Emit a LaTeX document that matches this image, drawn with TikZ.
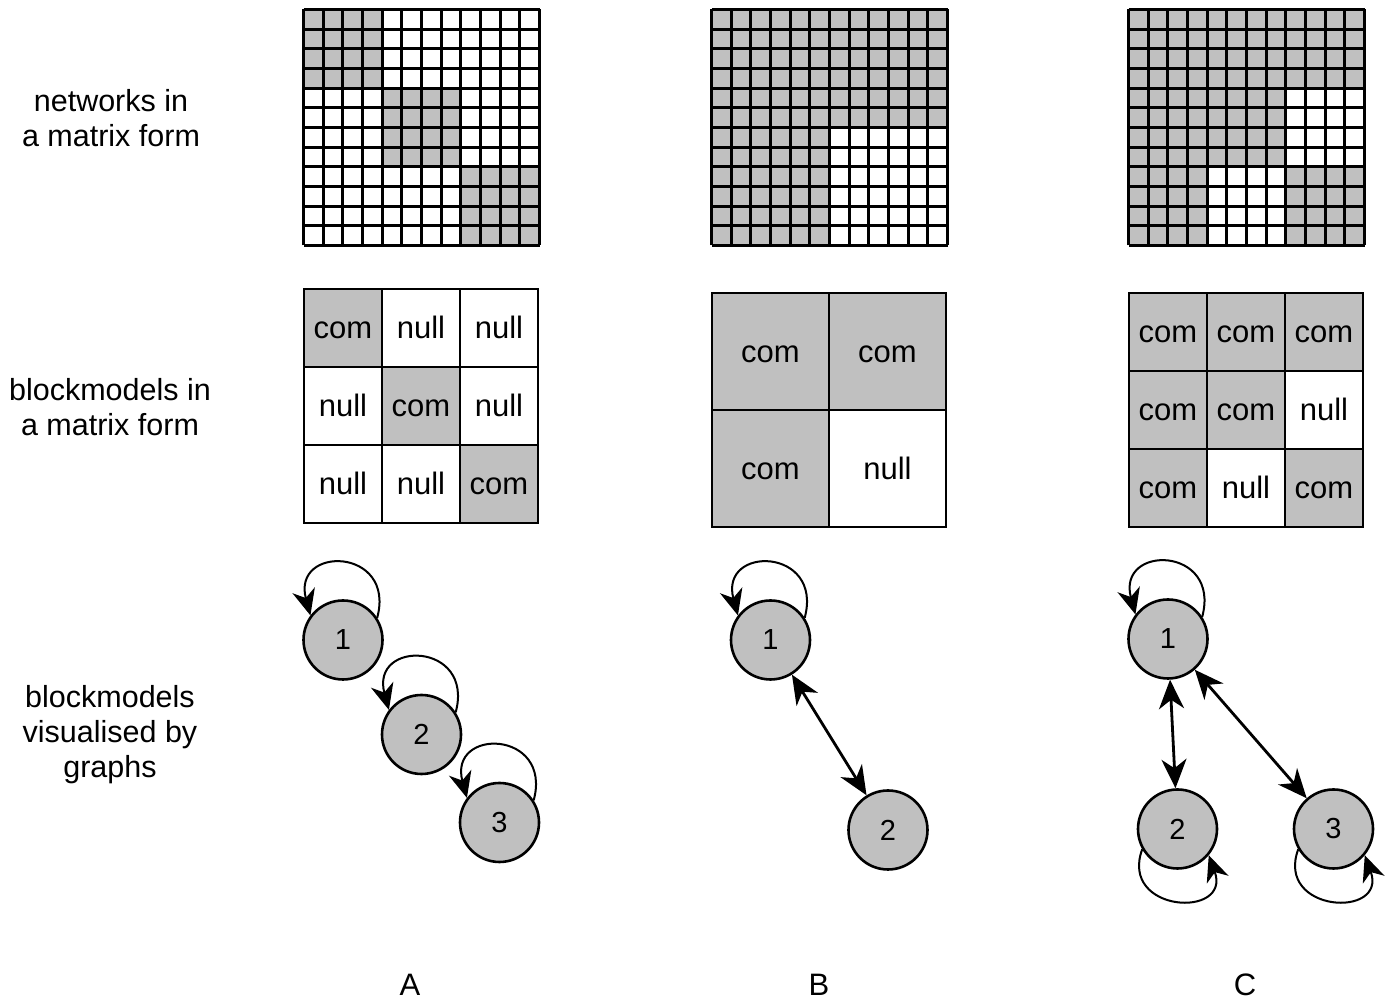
\documentclass[tikz,border=0pt]{standalone}
\usepackage{fontspec}
\setmainfont{Liberation Sans}
\usetikzlibrary{arrows.meta}
\pgfdeclarelayer{edgelayer}
\pgfdeclarelayer{nodelayer}
\pgfsetlayers{edgelayer,nodelayer,main}
\definecolor{cellgrey}{HTML}{C0C0C0}
\tikzstyle{none}=[inner sep=0pt]
\tikzstyle{row_label}=[align=center,inner sep=0pt,font=\fontsize{30.5}{35}\selectfont]
\tikzstyle{col_label}=[inner sep=0pt,font=\fontsize{31}{36}\selectfont]
\tikzstyle{com_cell}=[rectangle,draw=black,line width=2.6pt,fill=cellgrey,minimum size=78pt,inner sep=0pt,text height=22pt,text depth=0pt,font=\fontsize{31}{36}\selectfont]
\tikzstyle{null_cell}=[com_cell,fill=white]
\tikzstyle{big_com_cell}=[com_cell,minimum size=117pt]
\tikzstyle{big_null_cell}=[null_cell,minimum size=117pt]
\tikzstyle{block_vertex}=[circle,draw=black,line width=2.6pt,fill=cellgrey,minimum size=79pt,inner sep=0pt,font=\fontsize{29}{34}\selectfont]
\tikzstyle{self_loop}=[-{Stealth[length=26pt,width=23pt,inset=8pt]},draw=black,line width=2pt]
\tikzstyle{mutual_edge}=[{Stealth[length=29pt,width=25pt,inset=9pt]}-{Stealth[length=29pt,width=25pt,inset=9pt]},draw=black,line width=2.8pt]
\tikzstyle{net_grid}=[draw=black,line width=3pt]

\begin{document}
\begin{tikzpicture}[x=1pt,y=1pt]
	\useasboundingbox (0,0) rectangle (1390,1000);
	\begin{pgfonlayer}{nodelayer}
		\node [style=row_label] (0) at (111, 882) {networks in\\a matrix form};
		\node [style=row_label] (1) at (110, 593) {blockmodels in\\a matrix form};
		\node [style=row_label] (2) at (110, 265) {blockmodels\\visualised by\\graphs};
		% blockmodel A
		\node [style=com_cell] (3) at (343, 672) {com};
		\node [style=null_cell] (4) at (421, 672) {null};
		\node [style=null_cell] (5) at (499, 672) {null};
		\node [style=null_cell] (6) at (343, 594) {null};
		\node [style=com_cell] (7) at (421, 594) {com};
		\node [style=null_cell] (8) at (499, 594) {null};
		\node [style=null_cell] (9) at (343, 516) {null};
		\node [style=null_cell] (10) at (421, 516) {null};
		\node [style=com_cell] (11) at (499, 516) {com};
		% blockmodel B
		\node [style=big_com_cell] (12) at (770.5, 648.5) {com};
		\node [style=big_com_cell] (13) at (887.5, 648.5) {com};
		\node [style=big_com_cell] (14) at (770.5, 531.5) {com};
		\node [style=big_null_cell] (15) at (887.5, 531.5) {null};
		% blockmodel C
		\node [style=com_cell] (16) at (1168, 668) {com};
		\node [style=com_cell] (17) at (1246, 668) {com};
		\node [style=com_cell] (18) at (1324, 668) {com};
		\node [style=com_cell] (19) at (1168, 590) {com};
		\node [style=com_cell] (20) at (1246, 590) {com};
		\node [style=null_cell] (21) at (1324, 590) {null};
		\node [style=com_cell] (22) at (1168, 512) {com};
		\node [style=null_cell] (23) at (1246, 512) {null};
		\node [style=com_cell] (24) at (1324, 512) {com};
		% graphs
		\node [style=block_vertex] (25) at (343, 360) {1};
		\node [style=block_vertex] (26) at (421.5, 265.5) {2};
		\node [style=block_vertex] (27) at (499.5, 177.5) {3};
		\node [style=block_vertex] (28) at (770.5, 360) {1};
		\node [style=block_vertex] (29) at (888, 170) {2};
		\node [style=block_vertex] (30) at (1168, 361) {1};
		\node [style=block_vertex] (31) at (1177.5, 171) {2};
		\node [style=block_vertex] (32) at (1333.5, 171) {3};
		\node [style=col_label] (33) at (410, 15) {A};
		\node [style=col_label] (34) at (819, 15) {B};
		\node [style=col_label] (35) at (1245, 15) {C};
	\end{pgfonlayer}
	\begin{pgfonlayer}{edgelayer}
		\draw [style=self_loop, out=75, in=105, looseness=2.8] (25.33) to (25.143);
		\draw [style=self_loop, out=75, in=105, looseness=2.8] (26.33) to (26.143);
		\draw [style=self_loop, out=75, in=105, looseness=2.8] (27.33) to (27.143);
		\draw [style=self_loop, out=75, in=105, looseness=2.8] (28.33) to (28.143);
		\draw [style=self_loop, out=75, in=105, looseness=2.8] (30.33) to (30.143);
		\draw [style=self_loop, out=250, in=290, looseness=2.6] (31.210) to (31.320);
		\draw [style=self_loop, out=250, in=290, looseness=2.6] (32.210) to (32.320);
		\draw [style=mutual_edge] (28) to (29);
		\draw [style=mutual_edge] (30) to (31);
		\draw [style=mutual_edge] (30) to (32);
	\end{pgfonlayer}
	% networks as matrices
	\begin{scope}[shift={(303.5,754.5)},x=19.667pt,y=19.667pt]
		\fill [cellgrey] (0,8) rectangle (4,12);
		\fill [cellgrey] (4,4) rectangle (8,8);
		\fill [cellgrey] (8,0) rectangle (12,4);
		\foreach \i in {0,...,12}
			\draw [style=net_grid] (\i,0) -- (\i,12) (0,\i) -- (12,\i);
	\end{scope}
	\begin{scope}[shift={(711.5,754.5)},x=19.667pt,y=19.667pt]
		\fill [cellgrey] (0,0) -- (6,0) -- (6,6) -- (12,6) -- (12,12) -- (0,12) -- cycle;
		\foreach \i in {0,...,12}
			\draw [style=net_grid] (\i,0) -- (\i,12) (0,\i) -- (12,\i);
	\end{scope}
	\begin{scope}[shift={(1128.5,754.5)},x=19.667pt,y=19.667pt]
		\fill [cellgrey] (0,0) rectangle (12,12);
		\fill [white] (8,4) rectangle (12,8);
		\fill [white] (4,0) rectangle (8,4);
		\foreach \i in {0,...,12}
			\draw [style=net_grid] (\i,0) -- (\i,12) (0,\i) -- (12,\i);
	\end{scope}
\end{tikzpicture}
\end{document}
